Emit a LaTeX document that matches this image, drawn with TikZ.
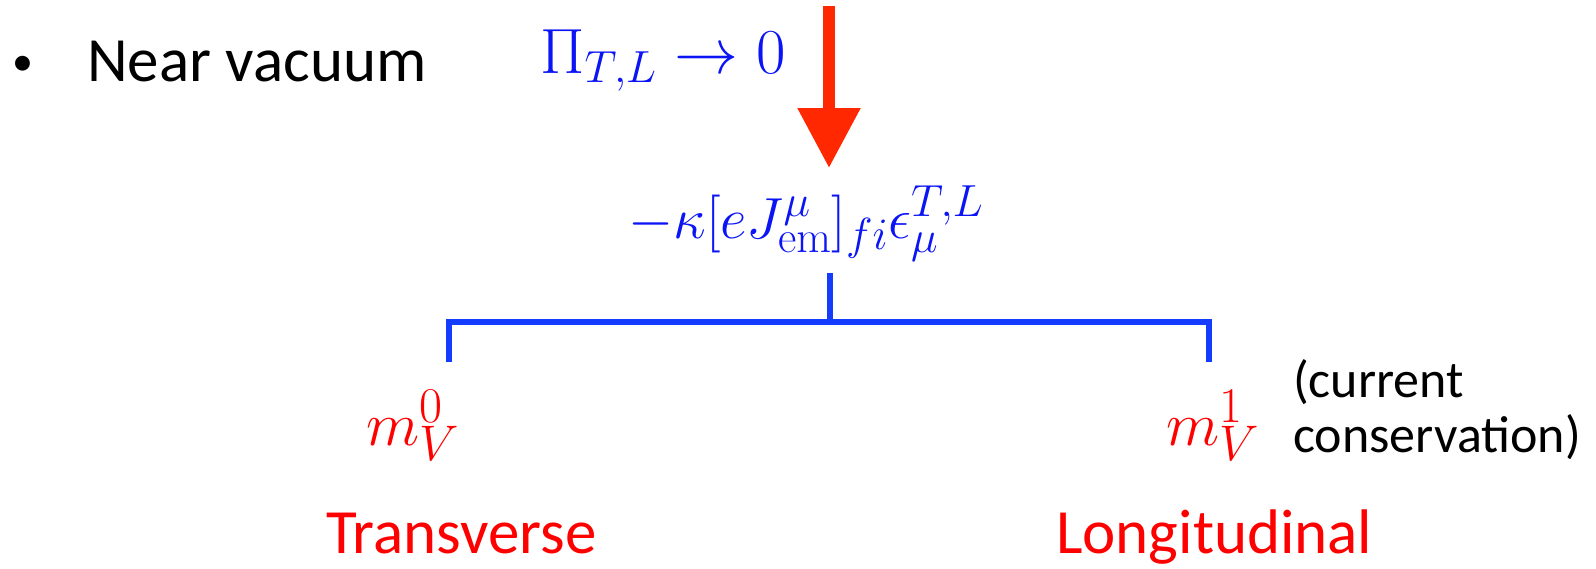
\RequirePackage{fix-cm}
\documentclass[tikz,border=0pt]{standalone}
\usepackage[no-math]{fontspec}
\setmainfont{Carlito}
\usetikzlibrary{arrows.meta}
\DeclareMathSizes{64}{64}{45}{34}
\DeclareMathSizes{58}{58}{45}{35}
\DeclareMathSizes{62}{62}{50}{40}
\definecolor{mblue}{RGB}{10,20,245}
\definecolor{bblue}{RGB}{20,60,255}
\definecolor{ared}{RGB}{255,40,0}
\definecolor{tred}{RGB}{255,0,0}
\tikzset{
  txt/.style={inner sep=0pt, anchor=base west, font=\fontsize{63}{70}\selectfont},
  mth/.style={inner sep=0pt, anchor=base west, font=\fontsize{64}{70}\selectfont},
  brk/.style={draw=bblue, line width=6.5pt},
  bigarrow/.style={draw=ared, line width=12pt, -{Triangle[width=60pt,length=60pt]}}
}
\begin{document}
\begin{tikzpicture}[x=1pt,y=-1pt]
\useasboundingbox (0,0) rectangle (1596,568);
\node[txt, font=\fontsize{42}{45}\selectfont] (bul) at (12,75) {•};
\node[txt] (near) at (87,81) {Near vacuum};
\node[mth, text=mblue] (pi) at (540,73) {$\Pi_{T,L}\to 0$};
\node[mth, text=mblue, font=\fontsize{58}{64}\selectfont] (form) at (628,238) {$-\kappa[eJ^{\mu}_{\mathrm{em}}]_{fi}\epsilon^{T,L}_{\mu}$};
\coordinate (atop) at (829,6);
\coordinate (atip) at (829,168);
\draw[bigarrow] (atop) -- (atip);
\coordinate (stem) at (830,273);
\coordinate (mid) at (830,322);
\coordinate (lt) at (449,322);
\coordinate (rt) at (1209,322);
\coordinate (lb) at (449,362);
\coordinate (rb) at (1209,362);
\draw[brk] (stem) -- (mid);
\draw[brk] (lb) -- (lt) -- (rt) -- (rb);
\node[mth, text=tred, font=\fontsize{62}{66}\selectfont] (m0) at (366,445) {$m_V^0$};
\node[mth, text=tred, font=\fontsize{62}{66}\selectfont] (m1) at (1166,445) {$m_V^1$};
\node[txt, font=\fontsize{52}{55}\selectfont, align=left] (cc) at (1293,452) {(current\\conservation)};
\node[txt, text=tred] (tr) at (326,553) {Transverse};
\node[txt, text=tred] (lo) at (1056,553) {Longitudinal};
\end{tikzpicture}
\end{document}
